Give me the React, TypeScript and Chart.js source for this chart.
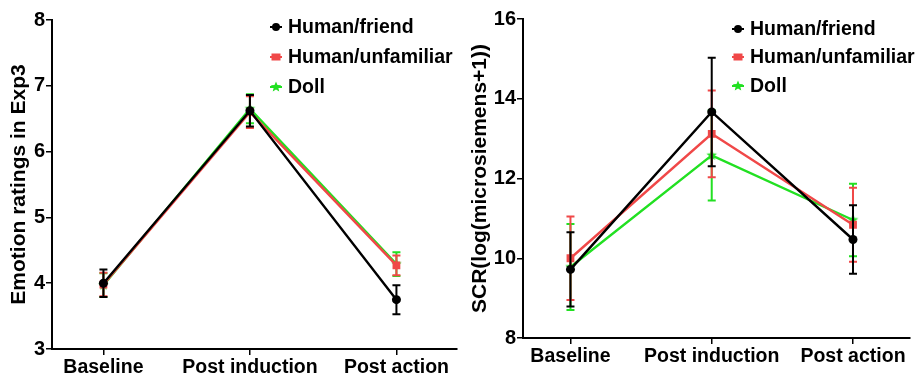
import React, { useEffect, useRef } from 'react';
import { Chart, registerables } from 'chart.js';

Chart.register(...registerables);

// ---------- data ----------
const categories = ['Baseline', 'Post induction', 'Post action'];
const seriesNames = ['Human/friend', 'Human/unfamiliar', 'Doll'];

const emotionFriend = [4.0, 6.62, 3.75];
const emotionFriendErr = [0.21, 0.24, 0.22];
const emotionUnfamiliar = [3.98, 6.6, 4.27];
const emotionUnfamiliarErr = [0.18, 0.24, 0.15];
const emotionDoll = [3.97, 6.65, 4.29];
const emotionDollErr = [0.18, 0.22, 0.18];

const scrFriend = [9.72, 13.67, 10.47];
const scrFriendErr = [0.93, 1.36, 0.86];
const scrUnfamiliar = [10.0, 13.12, 10.84];
const scrUnfamiliarErr = [1.05, 1.09, 0.93];
const scrDoll = [9.78, 12.58, 10.96];
const scrDollErr = [1.08, 1.13, 0.91];

const emotionTicks = [3, 4, 5, 6, 7, 8];
const scrTicks = [8, 10, 12, 14, 16];

const emotionTitle = 'Emotion ratings in Exp3';
const scrTitle = 'SCR(log(microsiemens+1))';

// ---------- styles ----------
const COLORS = ['#000000', '#f04848', '#22e022'];
const FONT = "'Liberation Sans', Arial, sans-serif";

function makeStar(color: string, r: number) {
  const size = Math.ceil(r * 2 + 2);
  const c = document.createElement('canvas');
  c.width = size;
  c.height = size;
  const ctx = c.getContext('2d')!;
  drawStar(ctx, size / 2, size / 2, r, color);
  return c;
}

function drawStar(ctx: CanvasRenderingContext2D, cx: number, cy: number, r: number, color: string) {
  ctx.save();
  ctx.fillStyle = color;
  ctx.beginPath();
  for (let i = 0; i < 10; i++) {
    const rad = i % 2 === 0 ? r : r * 0.45;
    const a = -Math.PI / 2 + (i * Math.PI) / 5;
    const px = cx + rad * Math.cos(a);
    const py = cy + rad * Math.sin(a);
    if (i === 0) ctx.moveTo(px, py);
    else ctx.lineTo(px, py);
  }
  ctx.closePath();
  ctx.fill();
  ctx.restore();
}

const errorBarPlugin = {
  id: 'errorBars',
  beforeDatasetDraw(chart: any, args: any) {
    const ds = chart.data.datasets[args.index];
    const errs: number[] = ds.errors || [];
    const yScale = chart.scales.y;
    const ctx = chart.ctx;
    ctx.save();
    ctx.strokeStyle = ds.borderColor;
    ctx.lineWidth = 2;
    args.meta.data.forEach((pt: any, i: number) => {
      const v = ds.data[i].y;
      const e = errs[i];
      const top = yScale.getPixelForValue(v + e);
      const bot = yScale.getPixelForValue(v - e);
      const x = pt.x;
      ctx.beginPath();
      ctx.moveTo(x, top);
      ctx.lineTo(x, bot);
      ctx.moveTo(x - 4, top);
      ctx.lineTo(x + 4, top);
      ctx.moveTo(x - 4, bot);
      ctx.lineTo(x + 4, bot);
      ctx.stroke();
    });
    ctx.restore();
  },
};

const legendPlugin = {
  id: 'insideLegend',
  afterDraw(chart: any, _args: any, opts: any) {
    const ctx = chart.ctx;
    ctx.save();
    chart.data.datasets.forEach((ds: any, i: number) => {
      const y = opts.ys[i];
      const mx = opts.x;
      ctx.strokeStyle = ds.borderColor;
      ctx.fillStyle = ds.borderColor;
      ctx.lineWidth = 2;
      ctx.beginPath();
      ctx.moveTo(mx - 6, y);
      ctx.lineTo(mx + 6, y);
      ctx.stroke();
      if (i === 0) {
        ctx.beginPath();
        ctx.arc(mx, y, 4, 0, Math.PI * 2);
        ctx.fill();
      } else if (i === 1) {
        ctx.fillRect(mx - 4.5, y - 3.5, 9, 7);
      } else {
        drawStar(ctx, mx, y, 5.5, ds.borderColor);
      }
      ctx.fillStyle = '#000';
      ctx.font = `bold 19.5px ${FONT}`;
      ctx.textBaseline = 'middle';
      ctx.textAlign = 'left';
      ctx.fillText(ds.label, opts.textX, y + 1);
    });
    ctx.restore();
  },
};

type Props = {
  width: number;
  height: number;
  values: number[][];
  errors: number[][];
  yTicks: number[];
  yTitle: string;
  xMin: number;
  xMax: number;
  padding: { left: number; right: number; top: number; bottom: number };
  yWidth: number;
  xHeight: number;
  legendYs: number[];
};

function ErrLineChart(p: Props) {
  const ref = useRef<HTMLCanvasElement>(null);
  useEffect(() => {
    const star = makeStar(COLORS[2], 5.5);
    const pointStyles = ['circle', 'rect', star];
    const radii = [4.5, 5.5, 5.5];
    const datasets = seriesNames.map((name, si) => ({
      label: name,
      data: p.values[si].map((v, i) => ({ x: i, y: v })),
      errors: p.errors[si],
      borderColor: COLORS[si],
      backgroundColor: COLORS[si],
      borderWidth: 2.4,
      pointStyle: pointStyles[si],
      pointRadius: radii[si],
      pointBorderWidth: 0,
      tension: 0,
    }));
    const chart = new Chart(ref.current!, {
      type: 'line',
      data: { datasets } as any,
      options: {
        animation: false,
        responsive: false,
        devicePixelRatio: 1,
        layout: { padding: p.padding },
        plugins: {
          legend: { display: false },
          tooltip: { enabled: false },
          insideLegend: { x: 276, textX: 288, ys: p.legendYs },
        } as any,
        scales: {
          x: {
            type: 'linear',
            min: p.xMin,
            max: p.xMax,
            afterBuildTicks: (s: any) => {
              s.ticks = categories.map((_, i) => ({ value: i }));
            },
            afterFit: (s: any) => {
              s.height = p.xHeight;
            },
            ticks: {
              callback: (v: any) => categories[v] ?? '',
              color: '#000',
              font: { family: FONT, weight: 'bold', size: 19.5 },
              padding: 1,
              maxRotation: 0,
              autoSkip: false,
            },
            grid: { drawOnChartArea: false, drawTicks: true, tickLength: 6, color: '#000', lineWidth: 1.5 },
            border: { display: true, color: '#000', width: 2 },
          },
          y: {
            type: 'linear',
            min: p.yTicks[0],
            max: p.yTicks[p.yTicks.length - 1],
            afterBuildTicks: (s: any) => {
              s.ticks = p.yTicks.map((v) => ({ value: v }));
            },
            afterFit: (s: any) => {
              s.width = p.yWidth;
            },
            ticks: {
              color: '#000',
              font: { family: FONT, weight: 'bold', size: 20 },
              padding: 1,
            },
            title: {
              display: true,
              text: p.yTitle,
              color: '#000',
              font: { family: FONT, weight: 'bold', size: 21 },
              padding: 0,
            },
            grid: { drawOnChartArea: false, drawTicks: true, tickLength: 6, color: '#000', lineWidth: 1.5 },
            border: { display: true, color: '#000', width: 2 },
          },
        },
      } as any,
      plugins: [errorBarPlugin, legendPlugin] as any,
    });
    return () => chart.destroy();
  }, []);
  return (
    <canvas
      ref={ref}
      width={p.width}
      height={p.height}
      style={{ display: 'block', width: p.width, height: p.height }}
    />
  );
}

export default function App() {
  return (
    <div
      style={{
        position: 'absolute',
        left: 0,
        top: 0,
        width: 915,
        height: 375,
        background: '#fff',
        display: 'flex',
        flexDirection: 'row',
      }}
    >
      <ErrLineChart
        width={462}
        height={375}
        values={[emotionFriend, emotionUnfamiliar, emotionDoll]}
        errors={[emotionFriendErr, emotionUnfamiliarErr, emotionDollErr]}
        yTicks={emotionTicks}
        yTitle={emotionTitle}
        xMin={-0.351}
        xMax={2.41}
        padding={{ left: 7, right: 1, top: 20, bottom: 0 }}
        yWidth={45}
        xHeight={26}
        legendYs={[27, 57, 87]}
      />
      <ErrLineChart
        width={453}
        height={375}
        values={[scrFriend, scrUnfamiliar, scrDoll]}
        errors={[scrFriendErr, scrUnfamiliarErr, scrDollErr]}
        yTicks={scrTicks}
        yTitle={scrTitle}
        xMin={-0.336}
        xMax={2.4}
        padding={{ left: 6, right: 0, top: 19, bottom: 10 }}
        yWidth={55}
        xHeight={27}
        legendYs={[29, 57, 86]}
      />
    </div>
  );
}
